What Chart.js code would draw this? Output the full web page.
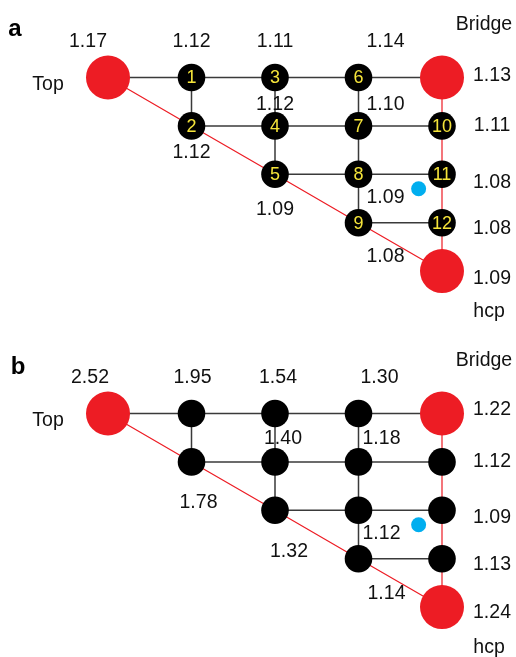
<!DOCTYPE html>
<html>
<head>
<meta charset="utf-8">
<script src="https://cdn.jsdelivr.net/npm/chart.js@4/dist/chart.umd.min.js"></script>
<style>
  html, body { margin: 0; padding: 0; background: #fff; }
  canvas { display: block; }
</style>
</head>
<body>
<canvas id="panelA" width="516" height="336"></canvas>
<canvas id="panelB" width="516" height="321"></canvas>
<script>
// sites in the same order everywhere: Top, 1..12, Bridge, hcp
const siteNames = ['Top','1','2','3','4','5','6','7','8','9','10','11','12','Bridge','hcp'];
const siteCols  = [0, 1, 1, 2, 2, 2, 3, 3, 3, 3, 4, 4, 4, 4, 4];
const siteRows  = [0, 0, 1, 0, 1, 2, 0, 1, 2, 3, 1, 2, 3, 0, 4];
const highSymmetrySites = ['Top', 'Bridge', 'hcp'];
const valuesA = [1.17, 1.12, 1.12, 1.11, 1.12, 1.09, 1.14, 1.10, 1.09, 1.08, 1.11, 1.08, 1.08, 1.13, 1.09];
const valuesB = [2.52, 1.95, 1.78, 1.54, 1.40, 1.32, 1.30, 1.18, 1.12, 1.14, 1.12, 1.09, 1.13, 1.22, 1.24];
const blueSite = {x: 3.72, y: 2.30};
const blackPaths = [['Top','1','3','6','Bridge'], ['2','4','7','10'], ['5','8','11'], ['9','12'],
                    ['1','2'], ['3','4','5'], ['6','7','8','9']];
const redPaths = [['Bridge','10','11','12','hcp'], ['Top','2','5','9','hcp']];

// label offsets (pixels from the node centre), per panel
const offsetsA = [[-20,-36],[0,-36],[0,27],[0,-36],[0,-21],[0,35],[27,-36],[27,-21],[27,23],[27,34],[50,0],[50,8],[50,6],[50,-2],[50,8]];
const offsetsB = [[-18,-36],[1,-36],[7,41],[3,-36],[8,-23],[14,41],[21,-36],[23,-23],[23,23],[28,35],[50,0],[50,7],[50,6],[50,-4],[50,6]];

const COL_PX = 83.5, ROW_PX = 48.4, X0 = 108, Y0 = 77.5;

function sitePoint(name) {
  const i = siteNames.indexOf(name);
  return {x: siteCols[i], y: siteRows[i]};
}

function buildDatasets() {
  const smallSites = siteNames.filter(n => !highSymmetrySites.includes(n));
  const sets = [
    { data: highSymmetrySites.map(sitePoint), pointRadius: 22, backgroundColor: '#ed1c24', borderWidth: 0, order: 0 },
    { data: smallSites.map(sitePoint), pointRadius: 13.8, backgroundColor: '#000', borderWidth: 0, order: 0 },
    { data: [blueSite], pointRadius: 7.5, backgroundColor: '#00aeef', borderWidth: 0, order: 0 }
  ];
  blackPaths.forEach(p => sets.push({ data: p.map(sitePoint), showLine: true, pointRadius: 0,
    borderColor: '#3a3a3a', borderWidth: 1.5, order: 2 }));
  redPaths.forEach(p => sets.push({ data: p.map(sitePoint), showLine: true, pointRadius: 0,
    borderColor: '#ed1c24', borderWidth: 1.2, order: 3 }));
  return sets;
}

function labelPlugin(values, offsets, letter, letterPos, showNumbers) {
  return {
    id: 'siteLabels',
    afterDatasetsDraw(chart) {
      const ctx = chart.ctx;
      const xs = chart.scales.x, ys = chart.scales.y;
      ctx.save();
      ctx.textAlign = 'center';
      ctx.textBaseline = 'middle';
      ctx.fillStyle = '#111';
      ctx.font = '19.5px "Liberation Sans", Arial, sans-serif';
      siteNames.forEach((name, i) => {
        const px = xs.getPixelForValue(siteCols[i]);
        const py = ys.getPixelForValue(siteRows[i]);
        ctx.fillText(values[i].toFixed(2), px + offsets[i][0], py + offsets[i][1]);
      });
      // site names
      const named = [['Top', -60, 7], ['Bridge', 42, -53], ['hcp', 47, 41]];
      named.forEach(([name, dx, dy]) => {
        const pt = sitePoint(name);
        ctx.fillText(name, xs.getPixelForValue(pt.x) + dx, ys.getPixelForValue(pt.y) + dy);
      });
      if (showNumbers) {
        ctx.fillStyle = '#f5e43a';
        ctx.font = '18px "Liberation Sans", Arial, sans-serif';
        siteNames.forEach((name, i) => {
          if (highSymmetrySites.includes(name)) return;
          ctx.fillText(name, xs.getPixelForValue(siteCols[i]), ys.getPixelForValue(siteRows[i]) + 1);
        });
      }
      ctx.fillStyle = '#000';
      ctx.font = 'bold 24px "Liberation Sans", Arial, sans-serif';
      ctx.fillText(letter, letterPos[0], letterPos[1]);
      ctx.restore();
    }
  };
}

function makePanel(id, values, offsets, letter, letterPos, showNumbers) {
  const canvas = document.getElementById(id);
  const h = canvas.height;
  const xMin = -X0 / COL_PX, yMin = -Y0 / ROW_PX;
  return new Chart(canvas, {
    type: 'scatter',
    data: { datasets: buildDatasets() },
    options: {
      responsive: false,
      animation: false,
      devicePixelRatio: 1,
      events: [],
      layout: { padding: 0, autoPadding: false },
      plugins: { legend: { display: false }, tooltip: { enabled: false } },
      scales: {
        x: { type: 'linear', display: false, min: xMin, max: xMin + 516 / COL_PX },
        y: { type: 'linear', display: false, reverse: true, min: yMin, max: yMin + h / ROW_PX }
      }
    },
    plugins: [labelPlugin(values, offsets, letter, letterPos, showNumbers)]
  });
}

makePanel('panelA', valuesA, offsetsA, 'a', [15, 29], true);
makePanel('panelB', valuesB, offsetsB, 'b', [18, 31], false);
</script>
</body>
</html>
